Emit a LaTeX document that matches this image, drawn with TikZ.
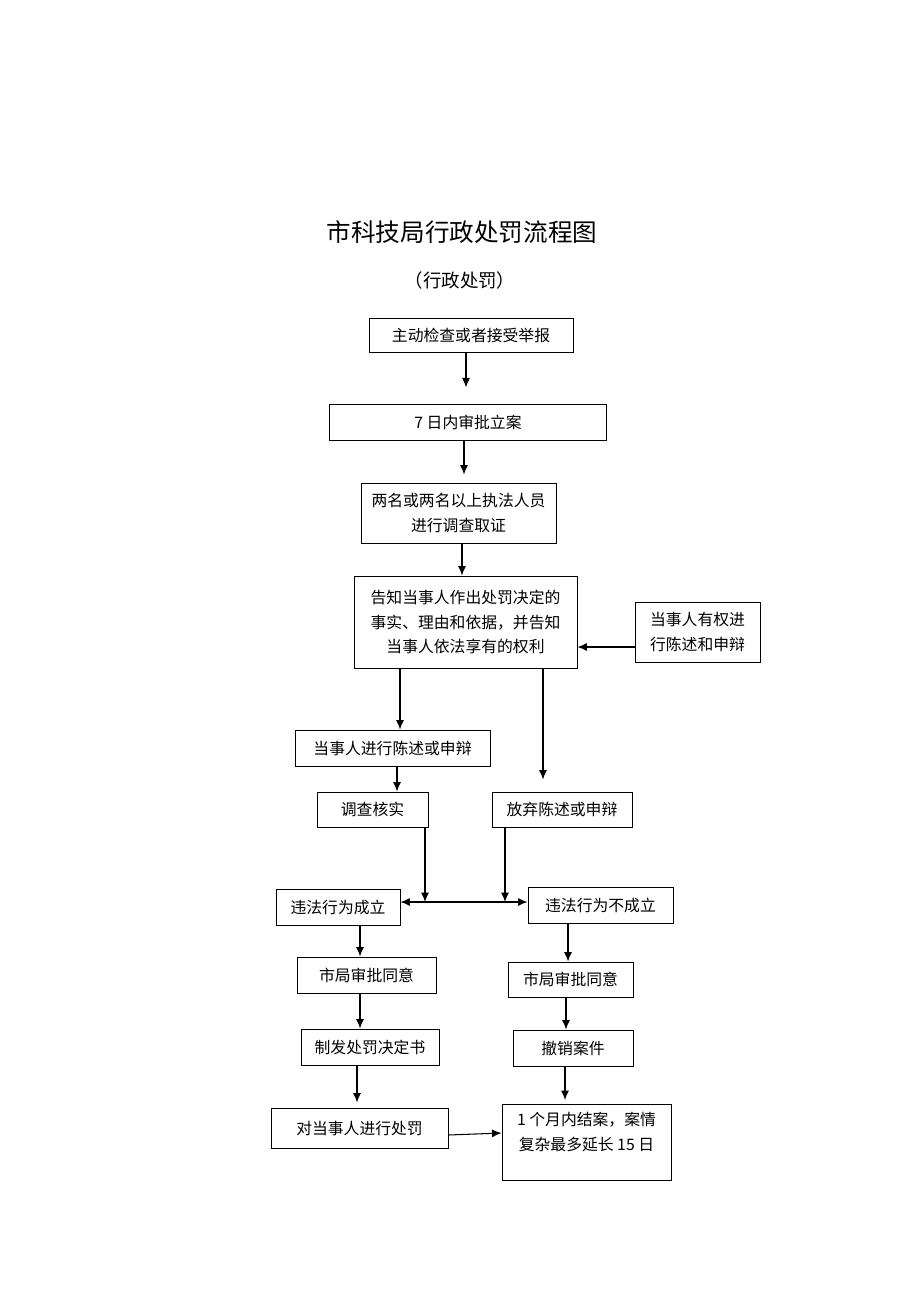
\documentclass[tikz,border=0pt]{standalone}
\usepackage{fontspec}
\usetikzlibrary{arrows.meta}
\newfontfamily\cjk{Noto Sans CJK SC}
\begin{document}
\begin{tikzpicture}
    [
    x=0.02cm,y=-0.02cm,
    line width=0.6pt,
    >={Latex[length=1.9mm,width=1.6mm]},
    stepbox/.style={draw,line width=0.55pt,align=center,inner sep=0pt,font=\cjk\fontsize{9}{14}\selectfont},
    heading/.style={font=\cjk\fontsize{14}{16}\selectfont},
    subheading/.style={font=\cjk\fontsize{10.5}{12}\selectfont}
    ]
    \useasboundingbox (0,0) rectangle (920,1302);
    \node (T) at (462,232) [heading] {市科技局行政处罚流程图};
    \node (S) at (460,280) [subheading] {（行政处罚）};
    \node (B1) at (471,335) [stepbox,minimum width=4.08cm,minimum height=0.68cm] {主动检查或者接受举报};
    \node (B2) at (468,422) [stepbox,minimum width=5.56cm,minimum height=0.72cm] {7 日内审批立案};
    \node (B3) at (458.5,513) [stepbox,minimum width=3.9cm,minimum height=1.2cm] {两名或两名以上执法人员\\进行调查取证};
    \node (B4) at (465.5,622) [stepbox,minimum width=4.46cm,minimum height=1.84cm] {告知当事人作出处罚决定的\\事实、理由和依据，并告知\\当事人依法享有的权利};
    \node (B5) at (697.5,632) [stepbox,minimum width=2.5cm,minimum height=1.2cm] {当事人有权进\\行陈述和申辩};
    \node (B6) at (392.5,748) [stepbox,minimum width=3.9cm,minimum height=0.72cm] {当事人进行陈述或申辩};
    \node (B7) at (372.5,809.5) [stepbox,minimum width=2.22cm,minimum height=0.7cm] {调查核实};
    \node (B8) at (562,809.5) [stepbox,minimum width=2.8cm,minimum height=0.7cm] {放弃陈述或申辩};
    \node (B9) at (338,907) [stepbox,minimum width=2.48cm,minimum height=0.72cm] {违法行为成立};
    \node (B10) at (600.5,905) [stepbox,minimum width=2.9cm,minimum height=0.72cm] {违法行为不成立};
    \node (B11) at (366.5,975) [stepbox,minimum width=2.78cm,minimum height=0.72cm] {市局审批同意};
    \node (B12) at (570.5,979.5) [stepbox,minimum width=2.5cm,minimum height=0.7cm] {市局审批同意};
    \node (B13) at (370,1047) [stepbox,minimum width=2.76cm,minimum height=0.72cm] {制发处罚决定书};
    \node (B14) at (573,1048) [stepbox,minimum width=2.4cm,minimum height=0.72cm] {撤销案件};
    \node (B15) at (359.5,1128) [stepbox,minimum width=3.54cm,minimum height=0.8cm] {对当事人进行处罚};
    \node (B16) at (586.5,1104) [stepbox,anchor=north,minimum width=3.38cm,inner ysep=0.16cm,text depth=0.44cm] {1 个月内结案，案情\\复杂最多延长 15 日};
    \coordinate (J1) at (425,902);
    \coordinate (J2) at (505,902);
    \draw [->] (B1.south -| 466,0) -- ([yshift=-0.7cm]B1.south -| 466,0);
    \draw [->] (B2.south -| 464,0) -- ([yshift=0.16cm]B3.north -| 464,0);
    \draw [->] (B3.south -| 462,0) -- (B4.north -| 462,0);
    \draw [->] (B5.west |- 0,647) -- (B4.east |- 0,647);
    \draw [->] (B4.south -| 400,0) -- (B6.north -| 400,0);
    \draw [->] (B4.south -| 543,0) -- ([yshift=0.24cm]B8.north -| 543,0);
    \draw [->] (B6.south -| 397,0) -- (B7.north -| 397,0);
    \draw [->] (B7.south -| J1) -- (J1);
    \draw [->] (B8.south -| J2) -- (J2);
    \draw [<->] (B9.east |- J1) -- (B10.west |- J1);
    \draw [->] (B9.south -| 360,0) -- (B11.north -| 360,0);
    \draw [->] (B10.south -| 568,0) -- (B12.north -| 568,0);
    \draw [->] (B11.south -| 360,0) -- (B13.north -| 360,0);
    \draw [->] (B12.south -| 566,0) -- (B14.north -| 566,0);
    \draw [->] (B13.south -| 357,0) -- ([yshift=0.1cm]B15.north -| 357,0);
    \draw [->] (B14.south -| 565,0) -- ([yshift=0.08cm]B16.north -| 565,0);
    \draw [->] (B15.east |- 0,1135) -- (B16.west |- 0,1133);
  \end{tikzpicture}
\end{document}
